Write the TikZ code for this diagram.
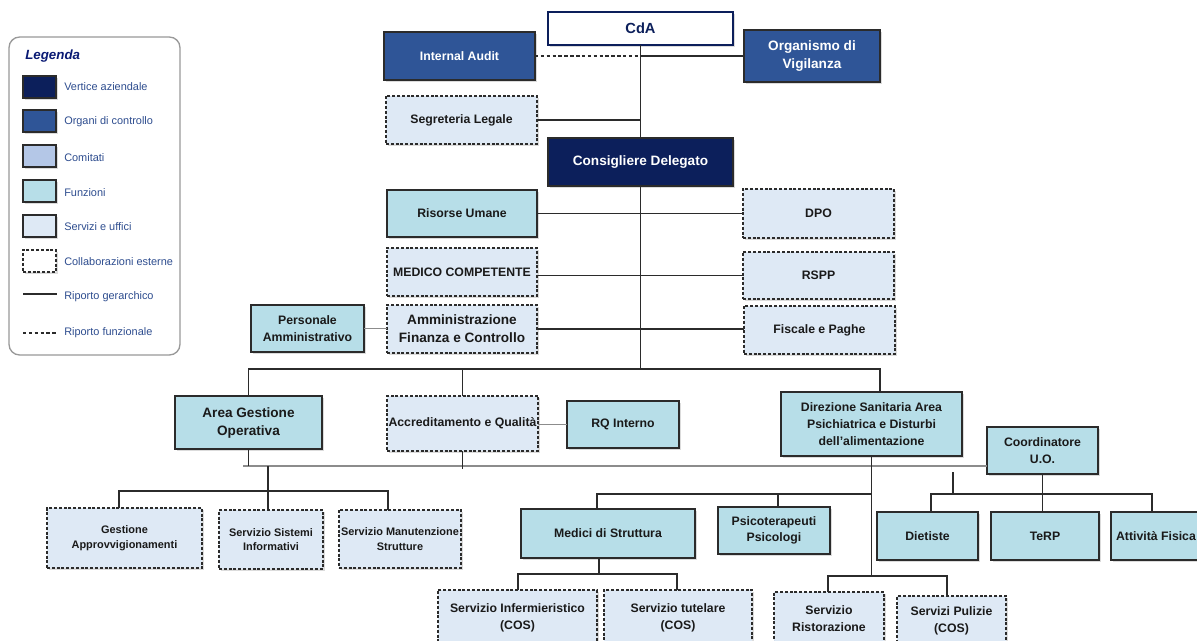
\documentclass[tikz,border=0pt]{standalone}
\usepackage{fontspec}
\setmainfont{Liberation Sans}
\usetikzlibrary{shadows}
\definecolor{cvert}{HTML}{0C1F5B}
\definecolor{corg}{HTML}{2F5597}
\definecolor{ccom}{HTML}{B4C7E7}
\definecolor{cfun}{HTML}{B7DEE8}
\definecolor{cser}{HTML}{DEE9F5}
\definecolor{legtxt}{HTML}{2E4D8F}
\definecolor{bord}{HTML}{2B2B2B}
\definecolor{txt}{HTML}{1A1A1A}
\newcommand{\fnine}{\fontsize{9.2}{12.5}\selectfont\bfseries}
\newcommand{\ften}{\fontsize{10.2}{13.5}\selectfont\bfseries}
\newcommand{\feight}{\fontsize{8.2}{10.8}\selectfont\bfseries}
\newcommand{\fcda}{\fontsize{11}{13}\selectfont\bfseries}
\newcommand{\flegt}{\fontsize{8.2}{10}\selectfont}
\newcommand{\obox}[7]{\node[#1, minimum width={0.75*(#5-#3)}, minimum height={0.75*(#6-#4)}] (#2) at ({(#3+#5)/2},{(#4+#6)/2}) {#7};}
\tikzset{
  base/.style={rectangle, inner sep=0pt, outer sep=0pt, align=center, text=txt, font=\fnine,
    draw=bord, line width=1.05pt,
    drop shadow={shadow xshift=1.3pt, shadow yshift=-1.3pt, opacity=0.28}},
  fbx/.style={base, fill=cfun},
  dbx/.style={base, fill=cser, dash pattern=on 2.2pt off 1.4pt},
  obx/.style={base, fill=corg, text=white},
  vbx/.style={base, fill=cvert, text=white},
  f10/.style={font=\ften},
  f8/.style={font=\feight},
  sw/.style={base, line width=1.1pt},
  legframe/.style={rectangle, inner sep=0pt, draw=black!40, line width=1pt, rounded corners=8pt, fill=white},
  legtext/.style={anchor=west, inner sep=0pt, text=legtxt, font=\flegt},
  ln/.style={draw=bord, line width=1pt},
  lg/.style={draw=black!45, line width=0.8pt},
  lf/.style={draw=bord, line width=0.9pt, dash pattern=on 2.6pt off 1.8pt},
}
\begin{document}
\begin{tikzpicture}[x=0.75pt, y=-0.75pt]
\useasboundingbox (0,0) rectangle (1197,640);
\clip (0,0) rectangle (1197,640);
\fill[white] (0,0) rectangle (1197,640);

% ---------- Legend ----------
\obox{legframe}{leg}{9}{37}{180}{355}{}
\node[anchor=west, inner sep=0pt, text=cvert!85!blue, font=\fontsize{10}{12}\selectfont\bfseries\itshape] (legt) at (25,56) {Legenda};
\obox{sw, fill=cvert}{s1}{23}{76}{56}{98}{}
\obox{sw, fill=corg}{s2}{23}{110}{56}{132}{}
\obox{sw, fill=ccom}{s3}{23}{145}{56}{167}{}
\obox{sw, fill=cfun}{s4}{23}{180}{56}{202}{}
\obox{sw, fill=cser}{s5}{23}{215}{56}{237}{}
\obox{sw, fill=white, dash pattern=on 2.2pt off 1.4pt}{s6}{23}{250}{56}{272}{}
\coordinate (g1) at (23,294);
\coordinate (g2) at (57,294);
\draw[ln] (g1) -- (g2);
\coordinate (h1) at (23,333);
\coordinate (h2) at (57,333);
\draw[lf] (h1) -- (h2);
\node[legtext] (l1) at (64,87) {Vertice aziendale};
\node[legtext] (l2) at (64,122) {Organi di controllo};
\node[legtext] (l3) at (64,158) {Comitati};
\node[legtext] (l4) at (64,193) {Funzioni};
\node[legtext] (l5) at (64,227) {Servizi e uffici};
\node[legtext] (l6) at (64,262) {Collaborazioni esterne};
\node[legtext] (l7) at (64,297) {Riporto gerarchico};
\node[legtext] (l8) at (64,333) {Riporto funzionale};

% ---------- Top ----------
\obox{base, fill=white, draw=cvert, line width=1.6pt, text=cvert, font=\fcda}{cda}{548}{12}{733}{45}{CdA}
\obox{obx}{ia}{384}{32}{535}{80}{Internal Audit}
\obox{obx, f10}{odv}{744}{30}{880}{82}{Organismo di\\Vigilanza}
\obox{dbx}{seg}{386}{96}{537}{144}{Segreteria Legale}
\obox{vbx, f10}{cd}{548}{138}{733}{186}{Consigliere Delegato}
\obox{fbx}{ru}{387}{190}{537}{237}{Risorse Umane}
\obox{dbx}{dpo}{743}{189}{894}{238}{DPO}
\obox{dbx}{mc}{387}{248}{537}{296}{MEDICO COMPETENTE}
\obox{dbx}{rspp}{743}{252}{894}{299}{RSPP}
\obox{fbx}{pa}{251}{305}{364}{352}{Personale\\Amministrativo}
\obox{dbx, f10}{afc}{387}{305}{537}{353}{Amministrazione\\Finanza e Controllo}
\obox{dbx}{fp}{744}{306}{895}{354}{Fiscale e Paghe}

% ---------- Middle ----------
\obox{fbx, f10}{ago}{175}{396}{322}{449}{Area Gestione\\Operativa}
\obox{dbx}{acc}{387}{396}{538}{451}{Accreditamento e Qualità}
\obox{fbx}{rq}{567}{401}{679}{448}{RQ Interno}
\obox{fbx}{dir}{781}{392}{962}{456}{Direzione Sanitaria Area\\Psichiatrica e Disturbi\\dell’alimentazione}
\obox{fbx}{coo}{987}{427}{1098}{474}{Coordinatore\\U.O.}

% ---------- Lower ----------
\obox{dbx, f8}{gap}{47}{508}{202}{568}{Gestione\\Approvvigionamenti}
\obox{dbx, f8}{ssi}{219}{510}{323}{569}{Servizio Sistemi\\Informativi}
\obox{dbx, f8}{smt}{339}{510}{461}{568}{Servizio Manutenzione\\Strutture}
\obox{fbx}{med}{521}{509}{695}{558}{Medici di Struttura}
\obox{fbx}{psi}{718}{507}{830}{554}{Psicoterapeuti\\Psicologi}
\obox{fbx}{die}{877}{512}{978}{560}{Dietiste}
\obox{fbx}{terp}{991}{512}{1099}{560}{TeRP}
\obox{fbx}{att}{1111}{512}{1201}{560}{Attività Fisica}
\obox{dbx}{inf}{438}{590}{597}{645}{Servizio Infermieristico\\(COS)}
\obox{dbx}{tut}{604}{590}{752}{645}{Servizio tutelare\\(COS)}
\obox{dbx}{ris}{774}{592}{884}{645}{Servizio\\Ristorazione}
\obox{dbx}{pul}{897}{596}{1006}{646}{Servizi Pulizie\\(COS)}

% ---------- Connectors ----------
\draw[lf] (ia.east) -- (ia.east -| cda.south);
\draw[ln] (cda.south) -- (cd.north);
\draw[ln] (odv.west) -- (odv.west -| cda.south);
\draw[ln] (seg.east) -- (seg.east -| cda.south);
\draw[ln] (ru.east) -- (ru.east -| dpo.west);
\draw[ln] (rspp.west) -- (rspp.west -| mc.east);
\draw[ln] (afc.east) -- (afc.east -| fp.west);
\draw[lg] (pa.east) -- (pa.east -| afc.west);

\coordinate (b1) at (248,369);
\coordinate (b2) at (880,369);
\draw[ln] (cd.south) -- (cd.south |- b1);
\draw[ln] (ago.north) -- (ago.north |- b1) -- (b2) -- (b2 |- dir.north);
\draw[ln] (acc.north) -- (acc.north |- b1);
\draw[lg] (rq.west) -- (rq.west -| acc.east);

\coordinate (g0) at (243,466);
\draw[lg] (g0) -- (g0 -| coo.west);
\draw[ln] (ago.south) -- (ago.south |- g0);
\coordinate (as) at (462,469);
\draw[ln] (acc.south) -- (acc.south |- as);

\coordinate (lb) at (268,491);
\coordinate (lb1) at (119,491);
\coordinate (lb2) at (388,491);
\draw[ln] (lb |- g0) -- (lb |- ssi.north);
\draw[ln] (lb1 |- gap.north) -- (lb1) -- (lb2) -- (lb2 |- smt.north);

\coordinate (mb1) at (597,494);
\coordinate (pd) at (778,494);
\coordinate (rb) at (872,576);
\draw[ln] (dir.south) -- (dir.south |- rb);
\draw[ln] (mb1 |- med.north) -- (mb1) -- (mb1 -| dir.south);
\draw[ln] (pd) -- (pd |- psi.north);

\coordinate (rb1) at (828,576);
\coordinate (rb2) at (947,576);
\draw[ln] (rb1 |- ris.north) -- (rb1) -- (rb2) -- (rb2 |- pul.north);

\coordinate (mb) at (599,574);
\coordinate (ib1) at (518,574);
\coordinate (ib2) at (677,574);
\draw[ln] (mb |- med.south) -- (mb);
\draw[ln] (ib1 |- inf.north) -- (ib1) -- (ib2) -- (ib2 |- tut.north);

\coordinate (cb1) at (931,494);
\coordinate (cb2) at (1152,494);
\coordinate (cs) at (953,472);
\draw[ln] (cb1 |- die.north) -- (cb1) -- (cb2) -- (cb2 |- att.north);
\draw[ln] (coo.south) -- (coo.south |- terp.north);
\draw[ln] (cs) -- (cs |- cb1);
\end{tikzpicture}
\end{document}
